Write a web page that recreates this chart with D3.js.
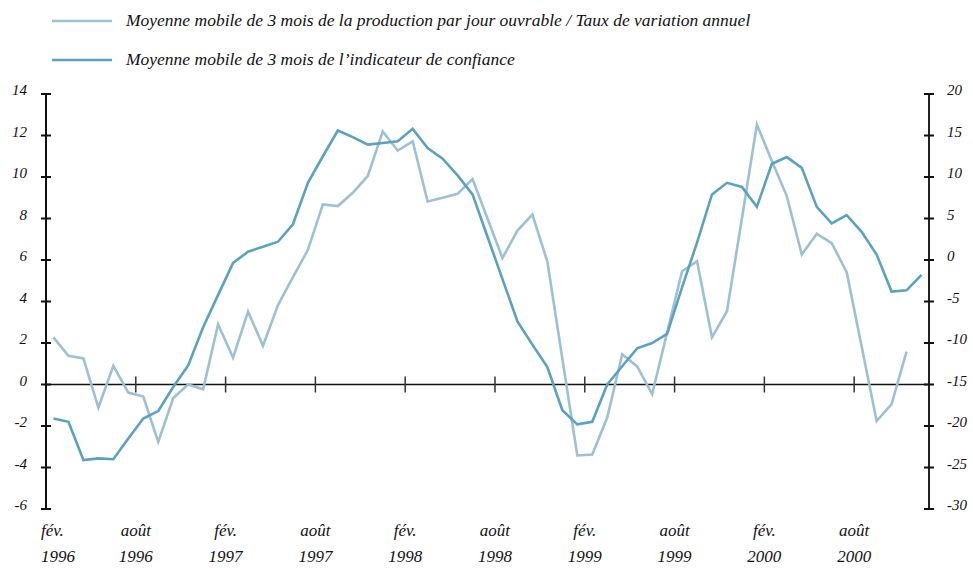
<!DOCTYPE html>
<html>
<head>
<meta charset="utf-8">
<script src="https://cdn.jsdelivr.net/npm/d3@7/dist/d3.min.js"></script>
<style>
  html, body { margin: 0; padding: 0; background: #fff; }
  svg text { font-family: "Liberation Serif", "DejaVu Serif", serif; font-style: italic; fill: #111; }
</style>
</head>
<body>
<svg id="chart" width="973" height="568"></svg>
<script>
// ---- Data ----
// Monthly series starting February 1996 (index 0)
const production = [2.27, 1.38, 1.26, -1.11, 0.90, -0.39, -0.58, -2.77, -0.65, 0.0,
  -0.23, 2.90, 1.29, 3.51, 1.87, 3.83, 5.17, 6.49, 8.68, 8.60,
  9.24, 10.05, 12.20, 11.27, 11.72, 8.82, 9.0, 9.19, 9.90, 8.0,
  6.09, 7.42, 8.19, 5.92, 1.25, -3.42, -3.37, -1.59, 1.46, 0.87,
  -0.47, 2.5, 5.46, 5.94, 2.27, 3.53, 8.0, 12.53, 10.77, 9.08,
  6.26, 7.26, 6.81, 5.41, 1.83, -1.76, -0.95, 1.58];
const confiance = [-19.1, -19.5, -24.1, -23.9, -24.0, -21.5, -19.1, -18.2, -15.3, -12.7,
  -8.1, -4.2, -0.35, 1.0, 1.6, 2.2, 4.3, 9.3, 12.5, 15.6,
  14.8, 13.9, 14.1, 14.3, 15.8, 13.5, 12.2, 10.2, 7.9, 2.8,
  -2.3, -7.4, -10.2, -12.9, -18.1, -19.8, -19.5, -15.0, -12.8, -10.65,
  -10.0, -8.9, -3.3, 2.1, 7.9, 9.3, 8.8, 6.4, 11.6, 12.4,
  11.1, 6.4, 4.4, 5.4, 3.4, 0.65, -3.8, -3.65, -1.8];
const tickMonths = [0, 6, 12, 18, 24, 30, 36, 42, 48, 54];
const tickMonthNames = ["fév.", "août", "fév.", "août", "fév.", "août", "fév.", "août", "fév.", "août"];
const tickYears = ["1996", "1996", "1997", "1997", "1998", "1998", "1999", "1999", "2000", "2000"];
const leftTicks = [14, 12, 10, 8, 6, 4, 2, 0, -2, -4, -6];
const rightTicks = [20, 15, 10, 5, 0, -5, -10, -15, -20, -25, -30];
const legendLabels = [
  "Moyenne mobile de 3 mois de la production par jour ouvrable / Taux de variation annuel",
  "Moyenne mobile de 3 mois de l\u2019indicateur de confiance"
];

// ---- Style ----
const colLight = "#9cc0d4";
const colDark = "#5ba1c1";

const svg = d3.select("#chart");
const x = d3.scaleLinear().domain([0, 59]).range([46, 929]);
const yL = d3.scaleLinear().domain([-6, 14]).range([509, 94]);
const yR = d3.scaleLinear().domain([-30, 20]).range([509, 94]);

// Zero line
svg.append("line")
  .attr("x1", x(0)).attr("x2", x(59))
  .attr("y1", yL(0)).attr("y2", yL(0))
  .attr("stroke", "#111").attr("stroke-width", 1.5);

// Month ticks on the zero line
svg.selectAll(".mtick").data(tickMonths.filter(d => d > 0)).enter()
  .append("line")
  .attr("x1", d => x(d)).attr("x2", d => x(d))
  .attr("y1", yL(0) - 8).attr("y2", yL(0) + 8)
  .attr("stroke", "#333").attr("stroke-width", 1.5);

// Left axis
svg.append("line").attr("x1", x(0)).attr("x2", x(0))
  .attr("y1", yL(14)).attr("y2", yL(-6))
  .attr("stroke", "#111").attr("stroke-width", 2);
svg.selectAll(".ltick").data(leftTicks).enter().append("line")
  .attr("x1", x(0) - 5).attr("x2", x(0) + 5)
  .attr("y1", d => yL(d)).attr("y2", d => yL(d))
  .attr("stroke", "#111").attr("stroke-width", 2);
svg.selectAll(".llab").data(leftTicks).enter().append("text")
  .attr("x", 27).attr("y", d => yL(d) + 1)
  .attr("text-anchor", "end")
  .attr("font-size", 15)
  .text(d => d);

// Right axis
svg.append("line").attr("x1", x(59)).attr("x2", x(59))
  .attr("y1", yR(20)).attr("y2", yR(-30))
  .attr("stroke", "#222").attr("stroke-width", 2);
svg.selectAll(".rtick").data(rightTicks).enter().append("line")
  .attr("x1", x(59) - 5).attr("x2", x(59) + 5)
  .attr("y1", d => yR(d)).attr("y2", d => yR(d))
  .attr("stroke", "#111").attr("stroke-width", 2);
svg.selectAll(".rlab").data(rightTicks).enter().append("text")
  .attr("x", 947).attr("y", d => yR(d) + 1)
  .attr("text-anchor", "start")
  .attr("font-size", 15)
  .text(d => d);

// X labels
const xl = svg.selectAll(".xlab").data(tickMonths).enter().append("g");
xl.append("text")
  .attr("x", (d, i) => i === 0 ? x(d) - 5 : x(d))
  .attr("y", 536)
  .attr("text-anchor", (d, i) => i === 0 ? "start" : "middle")
  .attr("font-size", 17)
  .text((d, i) => tickMonthNames[i]);
xl.append("text")
  .attr("x", (d, i) => i === 0 ? x(d) - 5 : x(d))
  .attr("y", 562)
  .attr("text-anchor", (d, i) => i === 0 ? "start" : "middle")
  .attr("font-size", 17)
  .text((d, i) => tickYears[i]);

// Lines
const lineL = d3.line().x((d, i) => x(i + 0.5)).y(d => yL(d));
const lineR = d3.line().x((d, i) => x(i + 0.5)).y(d => yR(d));
svg.append("path").datum(production).attr("d", lineL)
  .attr("fill", "none").attr("stroke", colLight).attr("stroke-width", 2.6)
  .attr("stroke-linejoin", "miter");
svg.append("path").datum(confiance).attr("d", lineR)
  .attr("fill", "none").attr("stroke", colDark).attr("stroke-width", 2.6)
  .attr("stroke-linejoin", "miter");

// Legend
const legY = [21, 60];
const legCols = [colLight, colDark];
legendLabels.forEach((t, i) => {
  svg.append("line").attr("x1", 52).attr("x2", 112)
    .attr("y1", legY[i]).attr("y2", legY[i])
    .attr("stroke", legCols[i]).attr("stroke-width", 2.6);
  svg.append("text").attr("x", 126).attr("y", legY[i] + 5)
    .attr("font-size", 17.5).text(t);
});
</script>
</body>
</html>
